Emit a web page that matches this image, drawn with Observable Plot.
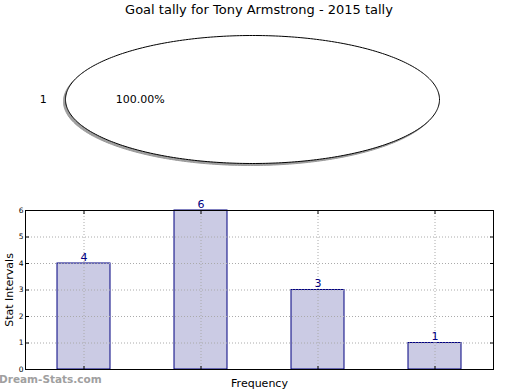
<!DOCTYPE html>
<html><head><meta charset="utf-8">
<script src="https://cdn.jsdelivr.net/npm/d3@7"></script>
<script src="https://cdn.jsdelivr.net/npm/@observablehq/plot@0.6"></script>
<style>
body{margin:0;background:#fff;font-family:"DejaVu Sans",sans-serif;}
#fig{position:relative;width:520px;height:390px;overflow:hidden;background:#fff;}
#title{position:absolute;top:2px;left:0;width:518px;text-align:center;font-size:13px;color:#000;}
#pie{position:absolute;top:0;left:0;}
#bars{position:absolute;top:190px;left:0;}
#wm{position:absolute;left:-1px;top:373px;font-size:10.5px;font-weight:bold;color:#a0a0a0;}
</style></head>
<body><div id="fig"><div id="pie"></div><div id="bars"></div><div id="title">Goal tally for Tony Armstrong - 2015 tally</div><div id="wm">Dream-Stats.com</div></div>
<script>
// pie data
const pieLabels = ["1"];
const pieValues = [1];
// bar data
const barCategories = ["1", "2", "3", "4"];
const barValues = [4, 6, 3, 1];
const yTicks = [0, 1, 2, 3, 4, 5, 6];

// slices start at angle 0 (east) and run counter-clockwise, like the reference
const arcs = d3.pie().sort(null).startAngle(0).endAngle(2 * Math.PI)(pieValues);
const slicePts = [];
const labelPts = [];
arcs.forEach((a, i) => {
  const full = a.endAngle - a.startAngle >= 2 * Math.PI - 1e-9;
  const steps = d3.range(0, 361).map(k => a.startAngle + (a.endAngle - a.startAngle) * k / 360);
  if (!full) slicePts.push({s: i, x: 0, y: 0});
  steps.forEach(t => slicePts.push({s: i, x: Math.cos(t), y: Math.sin(t)}));
  const m = (a.startAngle + a.endAngle) / 2;
  labelPts.push({
    lx: 1.1 * Math.cos(m), ly: 1.1 * Math.sin(m),
    px: 0.6 * Math.cos(m), py: 0.6 * Math.sin(m),
    label: pieLabels[i],
    pct: (100 * pieValues[i] / d3.sum(pieValues)).toFixed(2) + "%"
  });
});

const pie = Plot.plot({
  width: 520, height: 190,
  marginLeft: 65, marginRight: 81, marginTop: 35, marginBottom: 27,
  x: {domain: [-1, 1], axis: null},
  y: {domain: [-1, 1], axis: null},
  style: {fontFamily: "DejaVu Sans", background: "transparent"},
  marks: [
    Plot.line(slicePts, {x: "x", y: "y", z: "s", fill: "#888", stroke: "#999", strokeWidth: 1, fillOpacity: 0.8, dx: -2, dy: 2}),
    Plot.line(slicePts, {x: "x", y: "y", z: "s", fill: "white", stroke: "black", strokeWidth: 1}),
    Plot.text(labelPts, {x: "lx", y: "ly", text: "label", fontSize: 11, fill: "black", textAnchor: "end"}),
    Plot.text(labelPts, {x: "px", y: "py", text: "pct", fontSize: 11, fill: "black"})
  ]
});
document.getElementById("pie").appendChild(pie);

const barData = barCategories.map((c, i) => ({cat: c, value: barValues[i]}));
const bars = Plot.plot({
  width: 520, height: 200,
  marginLeft: 25, marginRight: 27, marginTop: 20, marginBottom: 21,
  x: {domain: barCategories, paddingInner: 0.547, paddingOuter: 0.2735, align: 0.5, label: null},
  y: {domain: [0, 6], label: null},
  style: {fontFamily: "DejaVu Sans", background: "transparent", overflow: "visible"},
  marks: [
    Plot.barY(barData, {x: "cat", y: "value", fill: "#cbcbe4", stroke: "#000080", strokeWidth: 1}),
    Plot.gridY(yTicks.slice(1, -1), {stroke: "#aaa", strokeOpacity: 1, strokeDasharray: "1,2"}),
    Plot.gridX(barCategories, {stroke: "#aaa", strokeOpacity: 1, strokeDasharray: "1,2"}),
    Plot.axisX({ticks: barCategories, tickSize: -3, tickFormat: () => "", label: null}),
    Plot.axisX({ticks: barCategories, anchor: "top", tickSize: -3, tickFormat: () => "", label: null}),
    Plot.axisY(yTicks, {tickSize: -4, tickPadding: 6, fontSize: 7.5, label: null, tickFormat: d => d}),
    Plot.axisY(yTicks, {anchor: "right", tickSize: -4, tickFormat: () => "", label: null}),
    Plot.frame({stroke: "black"}),
    Plot.text(barData, {x: "cat", y: "value", text: d => String(d.value), fill: "#000080", fontSize: 11, lineAnchor: "bottom", dy: -3}),
    Plot.text(["Frequency"], {frameAnchor: "bottom", dy: 17, fontSize: 11, fill: "black"}),
    Plot.text(["Stat Intervals"], {frameAnchor: "left", textAnchor: "middle", dx: -16, rotate: -90, fontSize: 11, fill: "black"})
  ]
});
document.getElementById("bars").appendChild(bars);
</script></body></html>
